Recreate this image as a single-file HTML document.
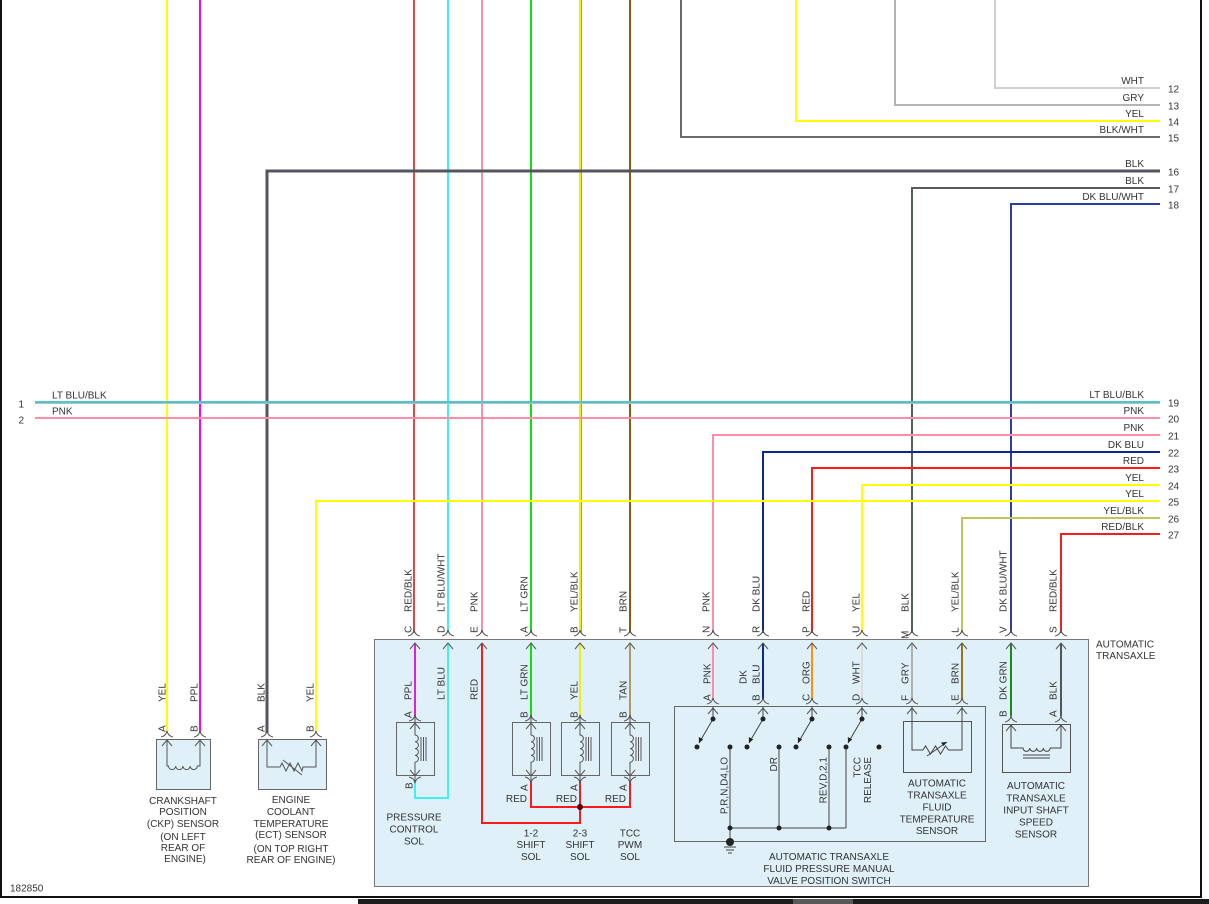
<!DOCTYPE html>
<html><head><meta charset="utf-8"><style>
html,body{margin:0;padding:0;background:#fff;}
svg{display:block;}
text{font-family:"Liberation Sans",Arial,sans-serif;font-size:10px;fill:#333;}
</style></head><body>
<svg width="1209" height="904" viewBox="0 0 1209 904" xmlns="http://www.w3.org/2000/svg">
<defs>
<path id="cap" d="M-6,6 Q-1,5 0,0 Q1,5 6,6" fill="none" stroke="#555" stroke-width="1"/>
<path id="chev" d="M-5,6 L0,0 L5,6" fill="none" stroke="#555" stroke-width="1"/>
</defs>
<rect width="1209" height="904" fill="#fff"/>

<!-- big transaxle box -->
<rect x="374.5" y="639.5" width="714" height="247" fill="#dff0f9" stroke="#777" stroke-width="1"/>
<!-- sensor boxes left -->
<rect x="156.5" y="739.5" width="54" height="50" fill="#dff0f9" stroke="#666"/>
<rect x="258.5" y="739.5" width="68" height="50" fill="#dff0f9" stroke="#666"/>

<g fill="none" stroke-width="2">
<!-- top verticals -->
<line x1="167" y1="0" x2="167" y2="733" stroke="#ffff00"/>
<line x1="200" y1="0" x2="200" y2="733" stroke="#ff00ff"/>
<line x1="414" y1="0" x2="414" y2="633" stroke="#e04848"/>
<line x1="448" y1="0" x2="448" y2="633" stroke="#3ef2f2"/>
<line x1="482" y1="0" x2="482" y2="633" stroke="#ff8fa8"/>
<line x1="531" y1="0" x2="531" y2="633" stroke="#10e010"/>
<line x1="580" y1="0" x2="580" y2="633" stroke="#f4f000"/>
<line x1="581.5" y1="0" x2="581.5" y2="633" stroke="#999" stroke-width="1"/>
<line x1="630" y1="0" x2="630" y2="633" stroke="#8a5a10"/>

<path d="M995,0 V88 H1160" stroke="#d0d0d0"/>
<path d="M895,0 V105 H1160" stroke="#b4b4b4"/>
<path d="M796,0 V121 H1160" stroke="#ffff00"/>
<path d="M681,0 V137 H1160" stroke="#6a6a6a"/>
<path d="M267,733 V171 H1160" stroke="#55555e" stroke-width="3"/>
<path d="M912,633 V188 H1160" stroke="#556055"/>
<path d="M1011,633 V204 H1160" stroke="#2a3fa0"/>
<line x1="35" y1="402" x2="1160" y2="402" stroke="#4ac6d2"/>
<line x1="35" y1="403.5" x2="1160" y2="403.5" stroke="#bbb" stroke-width="1"/>
<line x1="35" y1="418" x2="1160" y2="418" stroke="#ff8fa8"/>
<path d="M713,633 V435 H1160" stroke="#ff8fa8"/>
<path d="M763,633 V452 H1160" stroke="#0a2a8a"/>
<path d="M812,633 V468 H1160" stroke="#ff1a1a"/>
<path d="M862,633 V485 H1160" stroke="#ffff00"/>
<path d="M316,733 V501 H1160" stroke="#ffff00"/>
<path d="M962,633 V518 H1160" stroke="#c4c45a"/>
<path d="M1061,633 V534 H1160" stroke="#ee2020"/>

<!-- inner colored wires -->
<line x1="415" y1="643" x2="415" y2="716" stroke="#e020e0"/>
<path d="M448,643 V798 H415 V782" stroke="#3ef2f2"/>
<path d="M482,643 V823 H580 V782" stroke="#ff1a1a"/>
<path d="M531,782 V807 H630 V782" stroke="#ff1a1a"/>
<line x1="531" y1="643" x2="531" y2="716" stroke="#10e010"/>
<line x1="580" y1="643" x2="580" y2="716" stroke="#f4f000"/>
<line x1="630" y1="643" x2="630" y2="716" stroke="#ab9a68"/>
<line x1="713" y1="643" x2="713" y2="700" stroke="#ff8fa8"/>
<line x1="763" y1="643" x2="763" y2="700" stroke="#0a2a8a"/>
<line x1="812" y1="643" x2="812" y2="700" stroke="#ff9010"/>
<line x1="862" y1="643" x2="862" y2="700" stroke="#dcdcdc"/>
<line x1="912" y1="643" x2="912" y2="700" stroke="#b0b0b0"/>
<line x1="962" y1="643" x2="962" y2="700" stroke="#9a7418"/>
<line x1="1011" y1="643" x2="1011" y2="716" stroke="#1a8a1a"/>
<line x1="1061" y1="643" x2="1061" y2="716" stroke="#555"/>
</g>
<circle cx="580" cy="807" r="3" fill="#500"/>

<!-- connectors top of big box -->
<g>
<use href="#cap" transform="translate(414,630)"/><use href="#chev" transform="translate(415,643)"/>
<use href="#cap" transform="translate(448,630)"/><use href="#chev" transform="translate(448,643)"/>
<use href="#cap" transform="translate(482,630)"/><use href="#chev" transform="translate(482,643)"/>
<use href="#cap" transform="translate(531,630)"/><use href="#chev" transform="translate(531,643)"/>
<use href="#cap" transform="translate(580,630)"/><use href="#chev" transform="translate(580,643)"/>
<use href="#cap" transform="translate(630,630)"/><use href="#chev" transform="translate(630,643)"/>
<use href="#cap" transform="translate(713,630)"/><use href="#chev" transform="translate(713,643)"/>
<use href="#cap" transform="translate(763,630)"/><use href="#chev" transform="translate(763,643)"/>
<use href="#cap" transform="translate(812,630)"/><use href="#chev" transform="translate(812,643)"/>
<use href="#cap" transform="translate(862,630)"/><use href="#chev" transform="translate(862,643)"/>
<use href="#cap" transform="translate(912,630)"/><use href="#chev" transform="translate(912,643)"/>
<use href="#cap" transform="translate(962,630)"/><use href="#chev" transform="translate(962,643)"/>
<use href="#cap" transform="translate(1011,630)"/><use href="#chev" transform="translate(1011,643)"/>
<use href="#cap" transform="translate(1061,630)"/><use href="#chev" transform="translate(1061,643)"/>
<!-- CKP / ECT -->
<use href="#cap" transform="translate(167,731)"/><use href="#chev" transform="translate(167,740)"/>
<use href="#cap" transform="translate(200,731)"/><use href="#chev" transform="translate(200,740)"/>
<use href="#cap" transform="translate(267,731)"/><use href="#chev" transform="translate(267,740)"/>
<use href="#cap" transform="translate(316,731)"/><use href="#chev" transform="translate(316,740)"/>
<!-- speed sensor -->
<use href="#cap" transform="translate(1011,716)"/><use href="#chev" transform="translate(1011,725)"/>
<use href="#cap" transform="translate(1061,716)"/><use href="#chev" transform="translate(1061,725)"/>
<!-- switch box -->
<use href="#cap" transform="translate(713,698)"/><use href="#chev" transform="translate(713,708)"/>
<use href="#cap" transform="translate(763,698)"/><use href="#chev" transform="translate(763,708)"/>
<use href="#cap" transform="translate(812,698)"/><use href="#chev" transform="translate(812,708)"/>
<use href="#cap" transform="translate(862,698)"/><use href="#chev" transform="translate(862,708)"/>
<use href="#cap" transform="translate(912,698)"/><use href="#chev" transform="translate(912,708)"/>
<use href="#cap" transform="translate(962,698)"/><use href="#chev" transform="translate(962,708)"/>
</g>

<!-- solenoids -->
<g fill="none" stroke="#555" stroke-width="1">
<rect x="396.5" y="722.5" width="38" height="53" stroke="#666"/>
<rect x="512.5" y="722.5" width="38" height="53" stroke="#666"/>
<rect x="561.5" y="722.5" width="38" height="53" stroke="#666"/>
<rect x="611.5" y="722.5" width="38" height="53" stroke="#666"/>
<path d="M415,716 V735 a3.4,3.4 0 0 1 0,6.8 a3.4,3.4 0 0 1 0,6.8 a3.4,3.4 0 0 1 0,6.8 a3.4,3.4 0 0 1 0,6.8 V782"/>
<path d="M421,737 V761 M423.5,737 V761 M426,737 V761"/>
<path d="M531,716 V735 a3.4,3.4 0 0 1 0,6.8 a3.4,3.4 0 0 1 0,6.8 a3.4,3.4 0 0 1 0,6.8 a3.4,3.4 0 0 1 0,6.8 V782"/>
<path d="M537,737 V761 M539.5,737 V761 M542,737 V761"/>
<path d="M580,716 V735 a3.4,3.4 0 0 1 0,6.8 a3.4,3.4 0 0 1 0,6.8 a3.4,3.4 0 0 1 0,6.8 a3.4,3.4 0 0 1 0,6.8 V782"/>
<path d="M586,737 V761 M588.5,737 V761 M591,737 V761"/>
<path d="M630,716 V735 a3.4,3.4 0 0 1 0,6.8 a3.4,3.4 0 0 1 0,6.8 a3.4,3.4 0 0 1 0,6.8 a3.4,3.4 0 0 1 0,6.8 V782"/>
<path d="M636,737 V761 M638.5,737 V761 M641,737 V761"/>
</g>
<g>
<use href="#cap" transform="translate(415,715)"/><use href="#chev" transform="translate(415,723)"/>
<use href="#chev" transform="translate(415,776) scale(1,-1)"/><use href="#cap" transform="translate(415,783) scale(1,-1)"/>
<use href="#cap" transform="translate(531,715)"/><use href="#chev" transform="translate(531,723)"/>
<use href="#chev" transform="translate(531,776) scale(1,-1)"/><use href="#cap" transform="translate(531,783) scale(1,-1)"/>
<use href="#cap" transform="translate(580,715)"/><use href="#chev" transform="translate(580,723)"/>
<use href="#chev" transform="translate(580,776) scale(1,-1)"/><use href="#cap" transform="translate(580,783) scale(1,-1)"/>
<use href="#cap" transform="translate(630,715)"/><use href="#chev" transform="translate(630,723)"/>
<use href="#chev" transform="translate(630,776) scale(1,-1)"/><use href="#cap" transform="translate(630,783) scale(1,-1)"/>
</g>

<!-- CKP / ECT internals -->
<g fill="none" stroke="#555" stroke-width="1">
<path d="M167,739 V766 H168.5 a3.6,3.6 0 0 0 7.2,0 a3.6,3.6 0 0 0 7.2,0 a3.6,3.6 0 0 0 7.2,0 a3.6,3.6 0 0 0 7.2,0 H200 V739"/>
<path d="M267,739 V767 H280 l2,-4 l4,8 l4,-8 l4,8 l4,-8 l4,8 l1,-4 H316 V739"/>
<path d="M283,760 L302,775"/>
</g>

<!-- switch box -->
<rect x="674.5" y="706.5" width="311" height="135" fill="none" stroke="#666"/>
<rect x="903.5" y="721.5" width="68" height="51" fill="none" stroke="#555"/>
<g fill="none" stroke="#444" stroke-width="1">
<path d="M713,706 V719 M763,706 V719 M812,706 V719 M862,706 V719"/>
<path d="M713,719 L699,743 M763,719 L749,743 M812,719 L798,743 M862,719 L848,743"/>
<path d="M730,747 V828 M779,747 V828 M829,747 V828 M846,747 V828 M730,828 H846 M730,828 V842"/>
<path d="M724,847 H736 M726,850 H734 M728,853 H732"/>
<path d="M912,706 V750 H923 l2.5,-4 l5,8 l5,-8 l5,8 l5,-8 l3,4 H962 V706"/>
<path d="M927,756 L947,742"/>
<path d="M1011,725 V748 H1023 a3.4,3.4 0 0 0 6.8,0 a3.4,3.4 0 0 0 6.8,0 a3.4,3.4 0 0 0 6.8,0 a3.4,3.4 0 0 0 6.8,0 H1061 V725"/>
<path d="M1023,755 H1050 M1023,758 H1050"/>
</g>
<rect x="1002.5" y="724.5" width="68" height="48" fill="none" stroke="#555"/>
<g fill="#222">
<polygon points="699,743 698.8,737 703.2,739.5"/>
<polygon points="749,743 748.8,737 753.2,739.5"/>
<polygon points="798,743 797.8,737 802.2,739.5"/>
<polygon points="848,743 847.8,737 852.2,739.5"/>
<polygon points="947,742 941,742.5 943.5,746"/>
<circle cx="713" cy="719" r="2.5"/><circle cx="763" cy="719" r="2.5"/><circle cx="812" cy="719" r="2.5"/><circle cx="862" cy="719" r="2.5"/>
<circle cx="697" cy="747" r="2.5"/><circle cx="730" cy="747" r="2.5"/><circle cx="747" cy="747" r="2.5"/><circle cx="779" cy="747" r="2.5"/>
<circle cx="796" cy="747" r="2.5"/><circle cx="829" cy="747" r="2.5"/><circle cx="846" cy="747" r="2.5"/><circle cx="879" cy="747" r="2.5"/>
<circle cx="730" cy="828" r="2.5"/><circle cx="779" cy="828" r="2.5"/><circle cx="829" cy="828" r="2.5"/>
<circle cx="730" cy="842" r="4"/>
</g>

<!-- right wire labels -->
<g text-anchor="end">
<text x="1144" y="84">WHT</text>
<text x="1144" y="101">GRY</text>
<text x="1144" y="117">YEL</text>
<text x="1144" y="133">BLK/WHT</text>
<text x="1144" y="167">BLK</text>
<text x="1144" y="184">BLK</text>
<text x="1144" y="200">DK BLU/WHT</text>
<text x="1144" y="398">LT BLU/BLK</text>
<text x="1144" y="414">PNK</text>
<text x="1144" y="431">PNK</text>
<text x="1144" y="448">DK BLU</text>
<text x="1144" y="464">RED</text>
<text x="1144" y="481">YEL</text>
<text x="1144" y="497">YEL</text>
<text x="1144" y="514">YEL/BLK</text>
<text x="1144" y="530">RED/BLK</text>
</g>
<g>
<text x="1168" y="92.5">12</text>
<text x="1168" y="109.5">13</text>
<text x="1168" y="125.5">14</text>
<text x="1168" y="141.5">15</text>
<text x="1168" y="175.5">16</text>
<text x="1168" y="192.5">17</text>
<text x="1168" y="208.5">18</text>
<text x="1168" y="406.5">19</text>
<text x="1168" y="422.5">20</text>
<text x="1168" y="439.5">21</text>
<text x="1168" y="456.5">22</text>
<text x="1168" y="472.5">23</text>
<text x="1168" y="489.5">24</text>
<text x="1168" y="505.5">25</text>
<text x="1168" y="522.5">26</text>
<text x="1168" y="538.5">27</text>
<text x="18.5" y="407.5">1</text>
<text x="18.5" y="423.5">2</text>
<text x="52" y="398.5">LT BLU/BLK</text>
<text x="52" y="414.5">PNK</text>
<text x="10" y="891.5">182850</text>
<text x="1096" y="647.5">AUTOMATIC</text>
<text x="1096" y="659">TRANSAXLE</text>
</g>

<!-- rotated labels top outer -->
<g>
<text transform="translate(411.5,633) rotate(-90)">C</text><text transform="translate(411.5,612) rotate(-90)">RED/BLK</text>
<text transform="translate(444.5,633) rotate(-90)">D</text><text transform="translate(444.5,612) rotate(-90)">LT BLU/WHT</text>
<text transform="translate(477.5,633) rotate(-90)">E</text><text transform="translate(477.5,612) rotate(-90)">PNK</text>
<text transform="translate(527.5,633) rotate(-90)">A</text><text transform="translate(527.5,612) rotate(-90)">LT GRN</text>
<text transform="translate(577.5,633) rotate(-90)">B</text><text transform="translate(577.5,612) rotate(-90)">YEL/BLK</text>
<text transform="translate(626.5,633) rotate(-90)">T</text><text transform="translate(626.5,612) rotate(-90)">BRN</text>
<text transform="translate(709.5,633) rotate(-90)">N</text><text transform="translate(709.5,612) rotate(-90)">PNK</text>
<text transform="translate(759.5,633) rotate(-90)">R</text><text transform="translate(759.5,612) rotate(-90)">DK BLU</text>
<text transform="translate(809.5,633) rotate(-90)">P</text><text transform="translate(809.5,612) rotate(-90)">RED</text>
<text transform="translate(859.5,633) rotate(-90)">U</text><text transform="translate(859.5,612) rotate(-90)">YEL</text>
<text transform="translate(908.5,639) rotate(-90)">M</text><text transform="translate(908.5,612) rotate(-90)">BLK</text>
<text transform="translate(958.5,633) rotate(-90)">L</text><text transform="translate(958.5,612) rotate(-90)">YEL/BLK</text>
<text transform="translate(1006.5,633) rotate(-90)">V</text><text transform="translate(1006.5,612) rotate(-90)">DK BLU/WHT</text>
<text transform="translate(1056.5,633) rotate(-90)">S</text><text transform="translate(1056.5,612) rotate(-90)">RED/BLK</text>
<!-- inner -->
<text transform="translate(411.5,718) rotate(-90)">A</text><text transform="translate(411.5,700) rotate(-90)">PPL</text>
<text transform="translate(444.5,700) rotate(-90)">LT BLU</text>
<text transform="translate(477.5,700) rotate(-90)">RED</text>
<text transform="translate(527.5,718) rotate(-90)">B</text><text transform="translate(527.5,700) rotate(-90)">LT GRN</text>
<text transform="translate(577.5,718) rotate(-90)">B</text><text transform="translate(577.5,700) rotate(-90)">YEL</text>
<text transform="translate(626.5,718) rotate(-90)">B</text><text transform="translate(626.5,700) rotate(-90)">TAN</text>
<text transform="translate(710.5,701) rotate(-90)">A</text><text transform="translate(710.5,684) rotate(-90)">PNK</text>
<text transform="translate(746.5,684) rotate(-90)">DK</text>
<text transform="translate(759.5,701) rotate(-90)">B</text><text transform="translate(759.5,684) rotate(-90)">BLU</text>
<text transform="translate(809.5,701) rotate(-90)">C</text><text transform="translate(809.5,684) rotate(-90)">ORG</text>
<text transform="translate(859.5,701) rotate(-90)">D</text><text transform="translate(859.5,684) rotate(-90)">WHT</text>
<text transform="translate(908.5,701) rotate(-90)">F</text><text transform="translate(908.5,684) rotate(-90)">GRY</text>
<text transform="translate(958.5,701) rotate(-90)">E</text><text transform="translate(958.5,684) rotate(-90)">BRN</text>
<text transform="translate(1006.5,717) rotate(-90)">B</text><text transform="translate(1006.5,700) rotate(-90)">DK GRN</text>
<text transform="translate(1056.5,717) rotate(-90)">A</text><text transform="translate(1056.5,700) rotate(-90)">BLK</text>
<!-- left sensors -->
<text transform="translate(165.5,732) rotate(-90)">A</text><text transform="translate(165.5,702) rotate(-90)">YEL</text>
<text transform="translate(197.5,732) rotate(-90)">B</text><text transform="translate(197.5,702) rotate(-90)">PPL</text>
<text transform="translate(264.5,732) rotate(-90)">A</text><text transform="translate(264.5,702) rotate(-90)">BLK</text>
<text transform="translate(313.5,732) rotate(-90)">B</text><text transform="translate(313.5,702) rotate(-90)">YEL</text>
<!-- solenoid bottoms -->
<text transform="translate(412.5,789) rotate(-90)">B</text>
<text transform="translate(527.5,791) rotate(-90)">A</text>
<text transform="translate(577.5,791) rotate(-90)">A</text>
<text transform="translate(626.5,791) rotate(-90)">A</text>
<!-- switch interior -->
<text transform="translate(727.5,757) rotate(-90)" text-anchor="end">P,R,N,D4,LO</text>
<text transform="translate(777,757) rotate(-90)" text-anchor="end">DR</text>
<text transform="translate(826.5,757) rotate(-90)" text-anchor="end">REV,D,2,1</text>
<text transform="translate(860.5,757) rotate(-90)" text-anchor="end">TCC</text>
<text transform="translate(871,757) rotate(-90)" text-anchor="end">RELEASE</text>
</g>

<!-- horizontal component labels -->
<g text-anchor="end">
<text x="527" y="802">RED</text>
<text x="577" y="802">RED</text>
<text x="626" y="802">RED</text>
</g>
<g text-anchor="middle">
<text x="183" y="804">CRANKSHAFT</text>
<text x="183" y="815">POSITION</text>
<text x="183" y="827">(CKP) SENSOR</text>
<text x="183" y="840">(ON LEFT</text>
<text x="183" y="851">REAR OF</text>
<text x="185" y="862">ENGINE)</text>
<text x="291" y="803">ENGINE</text>
<text x="291" y="815">COOLANT</text>
<text x="291" y="827">TEMPERATURE</text>
<text x="291" y="838">(ECT) SENSOR</text>
<text x="291" y="852">(ON TOP RIGHT</text>
<text x="291" y="863">REAR OF ENGINE)</text>
<text x="414" y="820.5">PRESSURE</text>
<text x="414" y="832.5">CONTROL</text>
<text x="414" y="844.5">SOL</text>
<text x="531" y="836.5">1-2</text>
<text x="531" y="848">SHIFT</text>
<text x="531" y="860">SOL</text>
<text x="580" y="836.5">2-3</text>
<text x="580" y="848">SHIFT</text>
<text x="580" y="860">SOL</text>
<text x="630" y="836.5">TCC</text>
<text x="630" y="848">PWM</text>
<text x="630" y="860">SOL</text>
<text x="937" y="786.5">AUTOMATIC</text>
<text x="937" y="798.5">TRANSAXLE</text>
<text x="937" y="810.5">FLUID</text>
<text x="937" y="822.5">TEMPERATURE</text>
<text x="937" y="834">SENSOR</text>
<text x="829" y="860">AUTOMATIC TRANSAXLE</text>
<text x="829" y="872">FLUID PRESSURE MANUAL</text>
<text x="829" y="884">VALVE POSITION SWITCH</text>
<text x="1036" y="789">AUTOMATIC</text>
<text x="1036" y="801.5">TRANSAXLE</text>
<text x="1036" y="813.5">INPUT SHAFT</text>
<text x="1036" y="825.5">SPEED</text>
<text x="1036" y="837.5">SENSOR</text>
</g>

<!-- borders -->
<rect x="0" y="0" width="2" height="898" fill="#111"/>
<rect x="1200" y="0" width="2" height="898" fill="#111"/>
<rect x="0" y="896" width="1202" height="2" fill="#111"/>
<rect x="358" y="899" width="851" height="5" fill="#1c1c1c"/>
<rect x="793" y="899" width="60" height="5" fill="#5a5a5a"/>
</svg>
</body></html>
